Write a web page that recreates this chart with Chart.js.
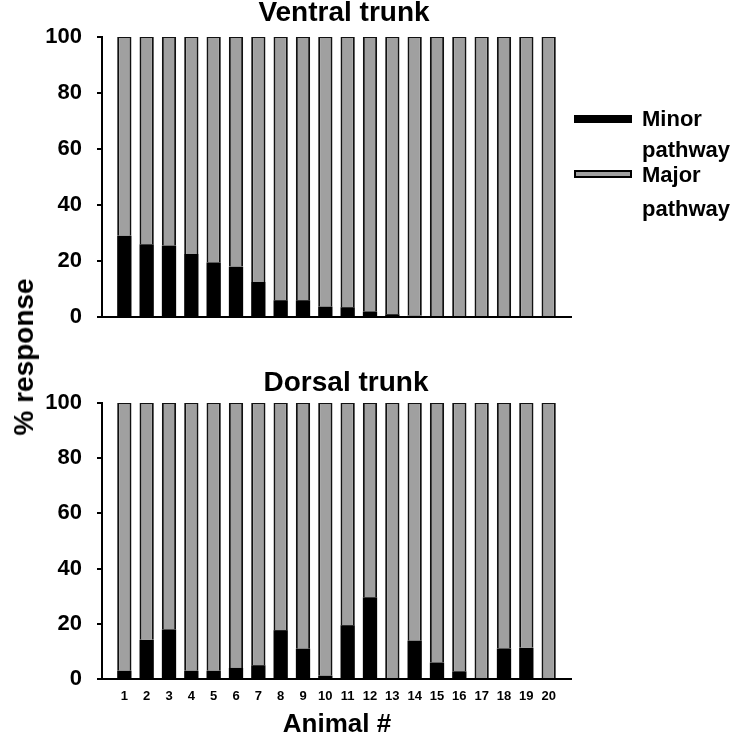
<!DOCTYPE html>
<html><head><meta charset="utf-8">
<script src="https://cdn.jsdelivr.net/npm/chart.js@4.4.1/dist/chart.umd.min.js"></script>
<style>
body{margin:0;background:#fff;width:750px;height:744px;position:relative;overflow:hidden;font-family:"Liberation Sans",Arial,sans-serif;font-weight:bold;color:#000}
canvas{position:absolute;left:0}
#c1{top:0}
#c2{top:345px}
.t{position:absolute;white-space:nowrap;line-height:1}
.box{position:absolute;box-sizing:border-box}
</style></head><body>
<canvas id="c1" width="690" height="380"></canvas>
<canvas id="c2" width="690" height="399"></canvas>
<div class="t" style="left:344px;top:-2px;font-size:28px;transform:translateX(-50%)">Ventral trunk</div>
<div class="t" style="left:346px;top:368px;font-size:28px;transform:translateX(-50%)">Dorsal trunk</div>
<div class="t" style="left:24px;top:357px;font-size:28px;transform:translate(-50%,-50%) rotate(-90deg)">% response</div>
<div class="t" style="left:337px;top:710px;font-size:26px;transform:translateX(-50%)">Animal #</div>
<div class="box" style="left:574px;top:115px;width:58px;height:8px;background:#000"></div>
<div class="box" style="left:574px;top:170px;width:58px;height:8px;background:#a0a0a0;border:2px solid #000"></div>
<div class="t" style="left:642px;top:108px;font-size:22px">Minor</div>
<div class="t" style="left:642px;top:139px;font-size:22px">pathway</div>
<div class="t" style="left:642px;top:164px;font-size:22px">Major</div>
<div class="t" style="left:642px;top:198px;font-size:22px">pathway</div>
<script>
const animals = [1,2,3,4,5,6,7,8,9,10,11,12,13,14,15,16,17,18,19,20];
const animalLabels = ['1','2','3','4','5','6','7','8','9','10','11','12','13','14','15','16','17','18','19','20'];
const ventralMinor = [29, 26, 25.5, 22.5, 19.5, 18, 12.5, 6, 6, 3.7, 3.5, 2, 1, 0.5, 0, 0, 0, 0, 0, 0];
const ventralMajor = [71, 74, 74.5, 77.5, 80.5, 82, 87.5, 94, 94, 96.3, 96.5, 98, 99, 99.5, 100, 100, 100, 100, 100, 100];
const dorsalMinor = [3, 14.2, 18, 3, 3, 4, 5, 17.7, 11, 1.2, 19.5, 29.6, 0, 13.9, 6, 2.8, 0, 11.1, 11.3, 0];
const dorsalMajor = [97, 85.8, 82, 97, 97, 96, 95, 82.3, 89, 98.8, 80.5, 70.4, 100, 86.1, 94, 97.2, 100, 88.9, 88.7, 100];
const yTicks = [0, 20, 40, 60, 80, 100];

const FONT = '"Liberation Sans", Arial, sans-serif';

function pts(vals){ return animals.map((a,i)=>({x:a, y:vals[i]})); }

function makeChart(id, minor, major, showX, padTop, xHeight){
  return new Chart(document.getElementById(id), {
    type:'bar',
    data:{datasets:[
      {label:'Minor pathway', data:pts(minor), backgroundColor:'#000', borderWidth:0,
       barPercentage:0.64, categoryPercentage:1},
      {label:'Major pathway', data:pts(major), backgroundColor:'#a0a0a0', borderColor:'#111',
       borderWidth:{left:2,right:2,top:1,bottom:0}, borderSkipped:'bottom',
       barPercentage:0.64, categoryPercentage:1}
    ]},
    options:{
      responsive:false, animation:false,
      layout:{padding:{left:0,right:119,top:padTop,bottom:0}},
      plugins:{ legend:{display:false}, tooltip:{enabled:false}, title:{display:false} },
      scales:{
        x:{type:'linear', stacked:true, min:0, max:21, offset:false,
           ticks:{display:showX, stepSize:1, autoSkip:false, maxRotation:0, color:'#000',
                  font:{family:FONT,size:13,weight:'bold'}, padding:10,
                  callback:v=> (v>=1 && v<=20) ? animalLabels[v-1] : ''},
           grid:{display:false, drawTicks:false},
           border:{display:true, color:'#000', width:2},
           afterFit(s){ s.height = xHeight; }},
        y:{stacked:true, min:0, max:100,
           afterBuildTicks(s){ s.ticks = yTicks.map(v=>({value:v})); },
           ticks:{color:'#000', font:{family:FONT,size:22,weight:'bold'}, padding:15},
           grid:{drawOnChartArea:false, drawTicks:true, tickLength:5, color:'#000', lineWidth:2},
           border:{display:true, color:'#000', width:2},
           afterFit(s){ s.width = 102; }}
      }
    }
  });
}
makeChart('c1', ventralMinor, ventralMajor, false, 37, 63);
makeChart('c2', dorsalMinor, dorsalMajor, true, 58, 65);
</script>
</body></html>
